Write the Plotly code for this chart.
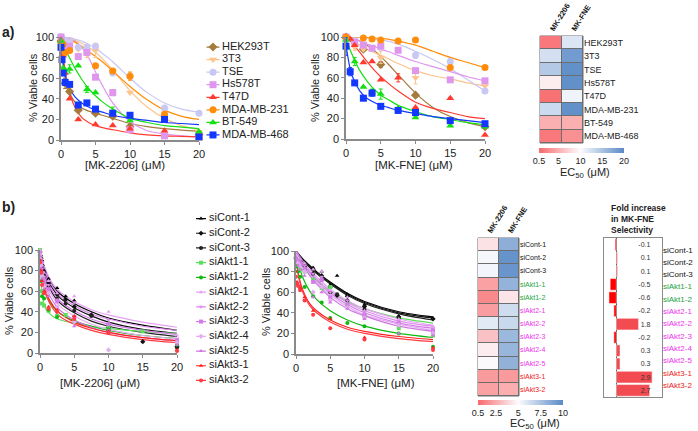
import plotly.graph_objects as go

W, H = 698, 431
FONT = "Arial, 'Liberation Sans', sans-serif"

# ---------------- panel a: cell lines ----------------
CELL_LINES = ["HEK293T", "3T3", "TSE", "Hs578T", "T47D", "MDA-MB-231", "BT-549", "MDA-MB-468"]
A_COLORS = ["#a57a3e", "#fdc48c", "#c9c8f3", "#df97ee", "#ff3b30", "#ff8c0a", "#14e014", "#1237ff"]
A_SYMBOLS = ["diamond", "triangle-down", "circle", "square", "triangle-up", "circle", "triangle-up", "square"]

A_DOSE = [0, 0.15, 0.3, 0.6, 1.25, 2.5, 3.75, 5, 7.5, 10, 15, 20]
# MK-2206 viability
A1_Y = [
    [96, None, None, 55, 47, 29, None, 26, 23, 13, None, 5],
    [100, None, None, 95, 96, 88, 84, 87, 66, 46, 29, 8],
    [100, None, None, 97, 95, 90, 90, 91, 65, 62, 31, 26],
    [100, None, None, 88, 91, 81, 85, 61, 46, 10, 4, 3],
    [97, None, 82, 65, 40, 20, None, 15, 14, 11, 9, 3],
    [95, None, 93, 85, 87, None, None, 72, 67, 62, 25, 6],
    [96, None, 70, 68, 69, 72, 49, 46, 28, 19, None, 8],
    [90, 78, 65, 56, 54, 34, 36, 30, 26, 24, 20, 3],
]
A1_ERR = [
    [0, 0, 0, 5, 0, 0, 0, 0, 0, 0, 0, 0],
    [0, 0, 0, 0, 0, 0, 4, 7, 0, 0, 0, 0],
    [0, 0, 0, 0, 0, 0, 0, 0, 0, 0, 0, 0],
    [0, 0, 0, 0, 0, 0, 0, 0, 3, 0, 0, 0],
    [0, 0, 0, 0, 0, 0, 0, 0, 0, 0, 0, 0],
    [0, 0, 0, 0, 0, 0, 0, 0, 0, 4, 0, 0],
    [0, 0, 0, 0, 4, 0, 3, 0, 4, 0, 0, 0],
    [0, 0, 0, 3, 0, 0, 0, 0, 0, 0, 0, 0],
]
# MK-FNE viability
A2_Y = [
    [100, None, None, None, None, 88, None, 73, None, 43, None, 12],
    [100, None, None, None, 90, 88, None, 80, None, 60, None, 52],
    [100, None, None, None, 96, None, None, 90, None, 82, 76, 47],
    [100, None, None, None, 95, 92, 89, 91, 87, 67, 58, 57],
    [100, None, None, 98, 92, 75, 76, 58, 60, 31, 40, 4],
    [100, None, None, None, None, 99, 98, 97, 96, 97, 70, 70],
    [97, None, None, None, 76, 51, 46, 44, 30, 21, 13, 12],
    [91, None, None, 66, 55, 40, 45, 32, 28, 26, 18, 15],
]
A2_ERR = [
    [0, 0, 0, 0, 0, 2, 0, 3, 0, 2, 0, 0],
    [0, 0, 0, 0, 3, 0, 0, 6, 0, 6, 0, 0],
    [0, 0, 0, 0, 0, 0, 0, 0, 0, 3, 3, 0],
    [0, 0, 0, 0, 0, 0, 0, 0, 0, 0, 0, 0],
    [0, 0, 0, 0, 0, 0, 0, 0, 4, 0, 0, 0],
    [0, 0, 0, 0, 0, 0, 0, 0, 0, 0, 0, 0],
    [0, 0, 0, 0, 4, 0, 3, 5, 0, 0, 0, 0],
    [9, 0, 0, 4, 0, 0, 3, 0, 0, 0, 0, 0],
]
FIT_X = [0, 0.5, 1, 2, 3, 4, 5, 6, 7.5, 10, 12.5, 15, 17.5, 20]
A1_FIT = [
    [97, 64, 50, 37, 31, 28, 26, 24, 21, 16, 13, 11, 9.5, 8.5],
    [100, 100, 99, 97, 94, 90, 85, 79, 68, 48, 32, 21, 14, 10],
    [100, 100, 100, 98, 96, 93, 89, 84, 76, 60, 46, 36, 30, 27],
    [100, 100, 99, 96, 90, 80, 66, 53, 36, 18, 9, 6, 4, 3],
    [100, 72, 52, 32, 22, 17, 14, 12, 10, 7, 5, 4, 3.5, 3],
    [100, 99, 98, 95, 91, 86, 81, 76, 67, 52, 39, 29, 23, 20],
    [97, 90, 83, 70, 59, 50, 43, 37, 30, 21, 17, 14, 12.5, 11],
    [92, 66, 54, 42, 36, 32, 29, 27, 24, 21, 19, 17, 16, 15],
]
A2_FIT = [
    [100, 99.5, 99, 96, 92, 87, 81, 74, 63, 45, 31, 22, 16, 12],
    [100, 98, 96, 92, 88, 85, 82, 79, 74, 67, 62, 59, 55, 52],
    [100, 100, 100, 99.5, 99, 98, 97, 96, 93, 86, 78, 69, 58, 47],
    [100, 99, 98, 96, 93, 91, 88, 86, 82, 76, 71, 66, 61, 57],
    [100, 97, 93, 85, 76, 68, 61, 55, 47, 36, 30, 26, 22, 20],
    [100, 100, 100, 100, 99.5, 99, 98.5, 98, 96, 92, 86, 80, 75, 70],
    [98, 89, 81, 67, 57, 49, 43, 39, 33, 27, 22, 19, 16, 14],
    [92, 72, 60, 47, 40, 36, 33, 31, 28, 25, 22, 20, 18, 16],
]
# EC50 (uM)
HM_A_2206 = [1.5, 12.5, 14.5, 9.0, 1.0, 13.0, 5.0, 1.5]
HM_A_FNE = [12.0, 18.5, 19.5, 19.5, 10.8, 19.5, 5.0, 3.0]
CB_A_TICKS = [0.5, 5, 10, 15, 20]

# ---------------- panel b: siRNA ----------------
SIRNA = ["siCont-1", "siCont-2", "siCont-3", "siAkt1-1", "siAkt1-2", "siAkt2-1",
         "siAkt2-2", "siAkt2-3", "siAkt2-4", "siAkt2-5", "siAkt3-1", "siAkt3-2"]
B_COLORS = ["#000000", "#111111", "#222222", "#5ede5e", "#12b812", "#e6a2f2",
            "#dd8cee", "#d57be9", "#e3aef0", "#cf78e2", "#ff2020", "#ff3a44"]
B_SYMBOLS = ["triangle-up", "diamond", "circle", "square", "circle", "triangle-up",
             "triangle-down", "square", "diamond", "triangle-up", "triangle-up", "circle"]
B_LABEL_COLORS = ["#111111"] * 3 + ["#1aa33c"] * 2 + ["#ee33ee"] * 5 + ["#ee2222"] * 2

B1_DOSE = [0, 0.15, 0.3, 0.6, 1.25, 2.5, 3.75, 5, 7.5, 10, 15, 20]
B1_Y = [
    [100, 95, 90, 80, 72, 63, 55, 51, 37, 28, None, 8],
    [98, 92, 85, 78, 68, 57, 52, 45, 37, 25, 11, 6],
    [96, 90, 83, 75, 65, 53, 48, 41, 36, 22, None, 5],
    [100, 60, 48, 46, 41, 36, 37, 31, None, 25, 21, 10],
    [92, 70, 55, 53, 42, 35, None, 30, None, 23, None, 8],
    [100, 92, 85, 78, 70, 58, None, 55, None, 40, None, 17],
    [98, 90, 82, 74, 66, 52, None, 49, None, 32, None, 14],
    [97, 88, 78, 70, 62, 50, None, 35, None, 28, None, 12],
    [95, 85, 75, 65, 58, 45, None, 30, None, 3, None, 10],
    [94, 82, 72, 62, 55, 40, None, 26, None, 22, None, 8],
    [90, 80, 70, 60, 45, 42, None, 36, None, 21, None, 3],
    [88, 78, 66, 58, 43, 40, None, 33, None, 20, None, 2],
]
B2_DOSE = [0, 0.15, 0.3, 0.6, 1.25, 2.5, 3.75, 5, 6, 7.5, 10, 15, 20]
B2_Y = [
    [95, 97, 95, 92, 88, 84, 80, 67, 76, 58, 48, 37, 35],
    [93, 96, 92, 90, 85, 82, 76, 65, 57, 56, 46, 36, 34],
    [90, 94, 90, 86, 82, 78, 72, 60, 58, 52, 43, 35, 22],
    [92, 90, 86, 82, 80, 72, 64, 65, None, 48, 37, 25, 18],
    [88, 85, 80, 75, 65, 56, 50, 35, None, 30, 27, 20, 7],
    [98, 97, 95, 92, 88, 82, 80, 62, None, 55, 42, 34, 27],
    [97, 96, 93, 90, 86, 78, 75, 60, None, 52, 40, 32, 25],
    [96, 94, 90, 88, 83, 70, 72, 55, None, 48, 38, 30, 23],
    [95, 93, 88, 85, 80, 60, 65, 52, None, 45, 35, 28, 20],
    [94, 92, 86, 82, 76, 55, 60, 50, None, 44, 34, 20, 18],
    [80, 70, 67, 64, 55, 42, None, 34, None, None, 16, None, 6],
    [75, 68, 66, 62, 52, 38, None, 25, None, None, 14, None, 4],
]
FITB_X = [0, 0.25, 0.5, 1, 2, 3, 5, 7.5, 10, 15, 20]
B1_FIT = [
    [100, 92, 86, 76, 64, 57, 48, 40, 34, 27, 22],
    [100, 91, 84, 73, 61, 53, 44, 36, 30, 23, 19],
    [100, 89, 81, 69, 56, 48, 39, 31, 26, 20, 16],
    [100, 62, 50, 41, 35, 32, 29, 26, 24, 21, 19],
    [100, 78, 67, 55, 44, 38, 31, 26, 22, 17, 14],
    [100, 93, 87, 78, 66, 59, 50, 42, 37, 30, 25],
    [100, 91, 85, 75, 63, 55, 46, 38, 33, 26, 22],
    [100, 89, 82, 71, 58, 50, 41, 33, 28, 22, 18],
    [100, 86, 78, 66, 53, 45, 36, 28, 23, 17, 14],
    [100, 84, 75, 62, 49, 41, 32, 25, 20, 15, 12],
    [100, 80, 70, 57, 45, 38, 30, 24, 20, 15, 12],
    [100, 78, 67, 54, 42, 35, 28, 22, 18, 13, 10],
]
B2_FIT = [
    [100, 98, 96, 92, 86, 80, 70, 59, 51, 41, 36],
    [100, 98, 96, 92, 85, 79, 69, 58, 50, 40, 35],
    [100, 98, 95, 91, 84, 78, 68, 57, 49, 39, 33],
    [100, 97, 94, 88, 79, 72, 61, 51, 44, 35, 30],
    [100, 90, 84, 74, 61, 53, 42, 33, 27, 20, 16],
    [100, 98, 95, 90, 82, 75, 63, 52, 44, 34, 28],
    [100, 97, 94, 89, 80, 73, 61, 50, 42, 32, 27],
    [100, 97, 94, 88, 79, 71, 59, 48, 40, 30, 25],
    [100, 96, 93, 87, 77, 69, 57, 46, 38, 29, 23],
    [100, 96, 92, 86, 76, 68, 55, 44, 37, 27, 22],
    [100, 82, 73, 62, 49, 42, 33, 26, 22, 17, 14],
    [100, 80, 71, 60, 47, 40, 31, 24, 20, 15, 12],
]
HM_B_2206 = [4.2, 5.2, 5.3, 2.2, 1.5, 2.1, 5.8, 3.2, 4.5, 4.9, 2.0, 2.2]
HM_B_FNE = [8.4, 9.6, 9.5, 8.2, 4.3, 6.4, 6.6, 8.0, 8.1, 8.3, 2.0, 2.6]
CB_B_TICKS = [0.5, 2.5, 5, 7.5, 10]
FOLD = [-0.1, 0.1, 0.1, -0.5, -0.6, -0.2, 1.8, -0.2, 0.3, 0.3, 2.9, 2.7]
DRUGS = ["MK-2206", "MK-FNE"]


def px_x(a, b):
    return [a / W, b / W]


def px_y(top, bottom):
    return [1 - bottom / H, 1 - top / H]


fig = go.Figure()
AX = dict(showgrid=False, zeroline=False, showline=True, linecolor="#8a8a8a", linewidth=1.5,
          ticks="outside", ticklen=3, tickcolor="#8a8a8a", tickfont=dict(size=11, color="#222"),
          automargin=False)


def curves(n, dose, ys, errs, fit_x, fits, colors, symbols, msize):
    xa, ya = "x%d" % n, "y%d" % n
    for i in range(len(ys)):
        fig.add_trace(go.Scatter(x=fit_x, y=fits[i], mode="lines", xaxis=xa, yaxis=ya,
                                 line=dict(color=colors[i], width=1.2, shape="spline", smoothing=0.8),
                                 showlegend=False, hoverinfo="skip"))
    for i in range(len(ys)):
        err = dict(type="data", array=errs[i], color=colors[i], thickness=1, width=2) if errs else None
        fig.add_trace(go.Scatter(x=dose, y=ys[i], mode="markers", xaxis=xa, yaxis=ya,
                                 marker=dict(color=colors[i], symbol=symbols[i], size=msize),
                                 error_y=err, cliponaxis=False, showlegend=False))


def curve_axes(n, xd, yd):
    fig.layout["xaxis%d" % n] = dict(AX, domain=xd, range=[0, 20], tickvals=[0, 5, 10, 15, 20],
                                     anchor="y%d" % n)
    fig.layout["yaxis%d" % n] = dict(AX, domain=yd, range=[0, 100], tickvals=[0, 20, 40, 60, 80, 100],
                                     anchor="x%d" % n)


curves(1, A_DOSE, A1_Y, A1_ERR, FIT_X, A1_FIT, A_COLORS, A_SYMBOLS, 7)
curves(2, A_DOSE, A2_Y, A2_ERR, FIT_X, A2_FIT, A_COLORS, A_SYMBOLS, 7)
curves(4, B1_DOSE, B1_Y, None, FITB_X, B1_FIT, B_COLORS, B_SYMBOLS, 4)
curves(5, B2_DOSE, B2_Y, None, FITB_X, B2_FIT, B_COLORS, B_SYMBOLS, 4)
curve_axes(1, px_x(61, 199), px_y(37, 140))
curve_axes(2, px_x(346, 485), px_y(37, 139))
curve_axes(4, px_x(40, 177), px_y(250, 353))
curve_axes(5, px_x(296, 433), px_y(251, 354))


# ---- heatmaps ----
def excel_scale(lo, mid, hi):
    f = (mid - lo) / (hi - lo)
    return [[0, "#F8696B"], [f, "#FCFCFF"], [1, "#5A8AC6"]]


def heatmap(n, rows, c1, c2, zmax, mid, ticks, ticktext, label_size, head_size, cb_x, cb_y, xd, yd):
    fig.add_trace(go.Heatmap(z=[list(r) for r in zip(c1, c2)], x=DRUGS, y=rows,
                             xaxis="x%d" % n, yaxis="y%d" % n, xgap=1, ygap=1,
                             colorscale=excel_scale(0.5, mid, zmax), zmin=0.5, zmax=zmax,
                             colorbar=dict(orientation="h", x=cb_x, xanchor="center", y=cb_y, yanchor="top",
                                           len=85 / W, thickness=5, xpad=0, ypad=0, outlinewidth=0,
                                           tickvals=ticks, ticks="", tickfont=dict(size=9, color="#222"))))
    fig.layout["xaxis%d" % n] = dict(domain=xd, side="top", tickangle=-58, ticks="", showgrid=False,
                                     tickvals=DRUGS, ticktext=["<b>%s</b>" % d for d in DRUGS],
                                     tickfont=dict(size=head_size, color="#111"), anchor="y%d" % n,
                                     automargin=False)
    fig.layout["yaxis%d" % n] = dict(domain=yd, side="right", autorange="reversed", ticks="",
                                     showgrid=False, tickvals=rows, ticktext=ticktext,
                                     tickfont=dict(size=label_size, color="#222"), anchor="x%d" % n,
                                     automargin=False)
    fig.add_shape(type="rect", xref="x%d domain" % n, yref="y%d domain" % n, x0=0, x1=1, y0=0, y1=1,
                  fillcolor="#6e6e6e", line=dict(color="#6e6e6e", width=1), layer="below")


heatmap(3, CELL_LINES, HM_A_2206, HM_A_FNE, 20, 10, CB_A_TICKS, CELL_LINES, 9, 7.5,
        581.5 / W, 1 - 148 / H, px_x(540, 583), px_y(36, 143))
heatmap(6, SIRNA, HM_B_2206, HM_B_FNE, 10, 5, CB_B_TICKS,
        ['<span style="color:%s">%s</span>' % (c, s) for s, c in zip(SIRNA, B_LABEL_COLORS)], 7, 7.5,
        520.5 / W, 1 - 400 / H, px_x(478, 519), px_y(238, 396))

# ---- fold increase bars ----
fig.add_trace(go.Bar(x=FOLD, y=SIRNA, orientation="h", xaxis="x7", yaxis="y7", width=0.88,
                     marker=dict(color=["#ff0000" if v < 0 else "#f24b51" for v in FOLD],
                                 line=dict(color="#ffffff", width=0.5)), showlegend=False))
fig.add_trace(go.Scatter(x=[0] * len(SIRNA), y=SIRNA, mode="markers", xaxis="x7", yaxis="y8",
                         marker=dict(opacity=0), showlegend=False, hoverinfo="skip"))
fig.layout.xaxis7 = dict(domain=px_x(604, 662), range=[-1, 3.7], showticklabels=False, ticks="",
                         showgrid=False, zeroline=True, zerolinecolor="#444", zerolinewidth=1,
                         showline=True, mirror=True, linecolor="#8a8a8a", linewidth=1, anchor="y7",
                         automargin=False)
fig.layout.yaxis7 = dict(domain=px_y(238, 397), type="category", categoryarray=SIRNA, autorange="reversed",
                         side="right", ticklabelposition="inside", ticks="", showgrid=False,
                         tickvals=SIRNA, ticktext=["%.1f" % v for v in FOLD], ticklabelstandoff=10,
                         tickfont=dict(size=7, color="#333"), showline=True, mirror=True,
                         linecolor="#8a8a8a", linewidth=1, anchor="x7", automargin=False)
fig.layout.yaxis8 = dict(overlaying="y7", type="category", categoryarray=SIRNA, autorange="reversed",
                         side="right", ticks="", showgrid=False, showline=False, tickvals=SIRNA,
                         ticktext=['<span style="color:%s">%s</span>' % (c, s) for s, c in zip(SIRNA, B_LABEL_COLORS)],
                         tickfont=dict(size=8), anchor="x7", automargin=False)


# ---- legends ----
def legend(n, names, colors, symbols, msize, mx, seg, tx, fsize, xd, yd, xr):
    xa, ya = "x%d" % n, "y%d" % n
    for i in range(len(names)):
        fig.add_trace(go.Scatter(x=[mx], y=[names[i]], mode="markers", xaxis=xa, yaxis=ya,
                                 marker=dict(color=colors[i], symbol=symbols[i], size=msize),
                                 error_x=dict(type="constant", value=seg, width=0, thickness=1.2, color=colors[i]),
                                 showlegend=False, hoverinfo="skip", cliponaxis=False))
    fig.add_trace(go.Scatter(x=[tx] * len(names), y=names, mode="text", text=names, xaxis=xa, yaxis=ya,
                             textposition="middle right", textfont=dict(size=fsize, color="#222"),
                             showlegend=False, hoverinfo="skip", cliponaxis=False))
    fig.layout["xaxis%d" % n] = dict(domain=xd, range=xr, visible=False, anchor="y%d" % n)
    fig.layout["yaxis%d" % n] = dict(domain=yd, type="category", categoryarray=names, autorange="reversed",
                                     visible=False, anchor="x%d" % n)


legend(9, CELL_LINES, A_COLORS, A_SYMBOLS, 7, 13, 6.5, 22, 11, px_x(200, 260), px_y(37.3, 144.7), [0, 60])
legend(10, SIRNA, B_COLORS, B_SYMBOLS, 4, 11, 5, 19, 11, px_x(190, 250), px_y(206.2, 392.8), [0, 60])


# ---- text ----
def note(text, x, y, size=11, angle=0, bold=False, xanchor="center", yanchor="middle", align="center"):
    fig.add_annotation(text="<b>%s</b>" % text if bold else text, x=x / W, y=1 - y / H, xref="paper",
                       yref="paper", showarrow=False, textangle=angle, xanchor=xanchor, yanchor=yanchor,
                       align=align, font=dict(size=size, color="#222"))


note("a)", 0, 32, 14, bold=True, xanchor="left")
note("b)", 0, 207, 14, bold=True, xanchor="left")
note("% Viable cells", 33, 88, angle=-90)
note("% Viable cells", 315, 88, angle=-90)
note("% Viable cells", 9, 301, angle=-90)
note("% Viable cells", 266, 302, angle=-90)
note("[MK-2206] (μM)", 125, 165, 11.5)
note("[MK-FNE] (μM)", 414, 165, 11.5)
note("[MK-2206] (μM)", 100, 383, 11.5)
note("[MK-FNE] (μM)", 376, 383, 11.5)
note("EC<sub>50</sub> (μM)", 585, 173, 11)
note("EC<sub>50</sub> (μM)", 535, 424, 11)
note("Fold increase<br>in MK-FNE<br>Selectivity", 609, 201, 8.5, bold=True, xanchor="left",
     yanchor="top", align="left")

fig.update_layout(width=W, height=H, margin=dict(l=0, r=0, t=0, b=0, autoexpand=False), showlegend=False,
                  paper_bgcolor="white", plot_bgcolor="rgba(0,0,0,0)", font=dict(family=FONT, color="#222"))
fig.write_html("out.html", config={"displayModeBar": False},
               post_script="document.body.style.margin='0px';")
